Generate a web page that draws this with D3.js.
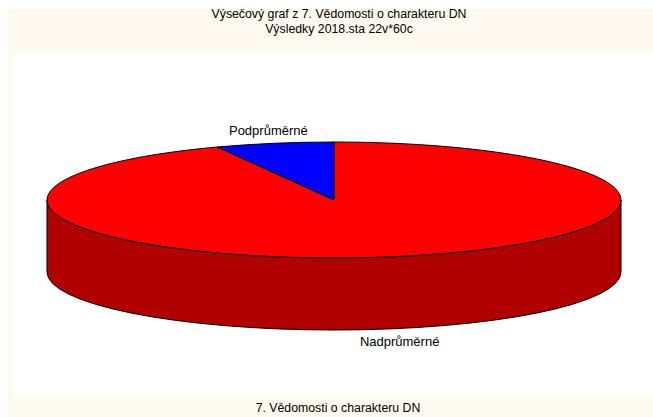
<!DOCTYPE html>
<html>
<head>
<meta charset="utf-8">
<script src="https://cdn.jsdelivr.net/npm/d3@7"></script>
<style>
  html, body { margin: 0; padding: 0; background: #fff; }
  text { font-family: "Liberation Sans", Arial, sans-serif; fill: #000; }
</style>
</head>
<body>
<div id="chart"></div>
<script>
const categories = ["Nadprůměrné", "Podprůměrné"];
const counts = [56, 4];
const sliceColors = ["#ff0000", "#0000ff"];
const sideColors = ["#b00000", "#0000b0"];
const titleLines = ["Výsečový graf z 7. Vědomosti o charakteru DN", "Výsledky 2018.sta 22v*60c"];
const footer = "7. Vědomosti o charakteru DN";

const width = 653, height = 417;

const svg = d3.select("#chart")
    .append("svg")
    .attr("width", width)
    .attr("height", height);

// cream frame and white plot area
svg.append("rect")
    .attr("x", 8).attr("y", 9)
    .attr("width", width - 8).attr("height", height - 9)
    .attr("fill", "#fffaef");
svg.append("rect")
    .attr("x", 14).attr("y", 52)
    .attr("width", width - 14).attr("height", 398 - 52)
    .attr("fill", "#fff");

svg.append("g")
    .selectAll("text")
    .data(titleLines)
    .join("text")
    .attr("x", 339)
    .attr("y", (d, i) => 18 + i * 15)
    .attr("text-anchor", "middle")
    .attr("font-size", 12.3)
    .text(d => d);

svg.append("text")
    .attr("x", 338)
    .attr("y", 412)
    .attr("text-anchor", "middle")
    .attr("font-size", 12.3)
    .text(footer);

// pie geometry
const cx = 334, cy = 200, rx = 287, ry = 58, depth = 72;

const pie = d3.pie().sort(null).value(d => d)
    .startAngle(0).endAngle(2 * Math.PI);
const arcs = pie(counts);

const pt = (a, dy) => [cx + rx * Math.sin(a), cy - ry * Math.cos(a) + dy];

// front side walls (only the lower half of the ellipse is visible)
function sidePath(d) {
    const s = Math.max(d.startAngle, Math.PI / 2);
    const e = Math.min(d.endAngle, 3 * Math.PI / 2);
    if (e <= s) return null;
    const large = e - s > Math.PI ? 1 : 0;
    const [x0, y0] = pt(s, 0), [x1, y1] = pt(e, 0);
    const [x2, y2] = pt(e, depth), [x3, y3] = pt(s, depth);
    return `M${x0},${y0}A${rx},${ry} 0 ${large} 1 ${x1},${y1}` +
        `L${x2},${y2}A${rx},${ry} 0 ${large} 0 ${x3},${y3}Z`;
}

svg.append("g")
    .selectAll("path")
    .data(arcs.filter(d => sidePath(d)))
    .join("path")
    .attr("d", sidePath)
    .attr("fill", d => sideColors[d.index])
    .attr("stroke", "#000")
    .attr("stroke-width", 1);

const arc = d3.arc().innerRadius(0).outerRadius(rx);

svg.append("g")
    .attr("transform", `translate(${cx},${cy}) scale(1,${ry / rx})`)
    .selectAll("path")
    .data(arcs)
    .join("path")
    .attr("d", arc)
    .attr("fill", d => sliceColors[d.index])
    .attr("stroke", "#000")
    .attr("stroke-width", 1)
    .attr("vector-effect", "non-scaling-stroke");

// slice labels
svg.append("g")
    .selectAll("text")
    .data(arcs)
    .join("text")
    .attr("x", d => cx + rx * 1.1 * Math.sin((d.startAngle + d.endAngle) / 2))
    .attr("y", d => {
        const m = (d.startAngle + d.endAngle) / 2;
        const y = cy - ry * Math.cos(m);
        return Math.cos(m) > 0 ? y - 13 : y + depth + 13;
    })
    .attr("dy", "0.35em")
    .attr("text-anchor", "middle")
    .attr("font-size", 13)
    .text(d => categories[d.index]);
</script>
</body>
</html>
